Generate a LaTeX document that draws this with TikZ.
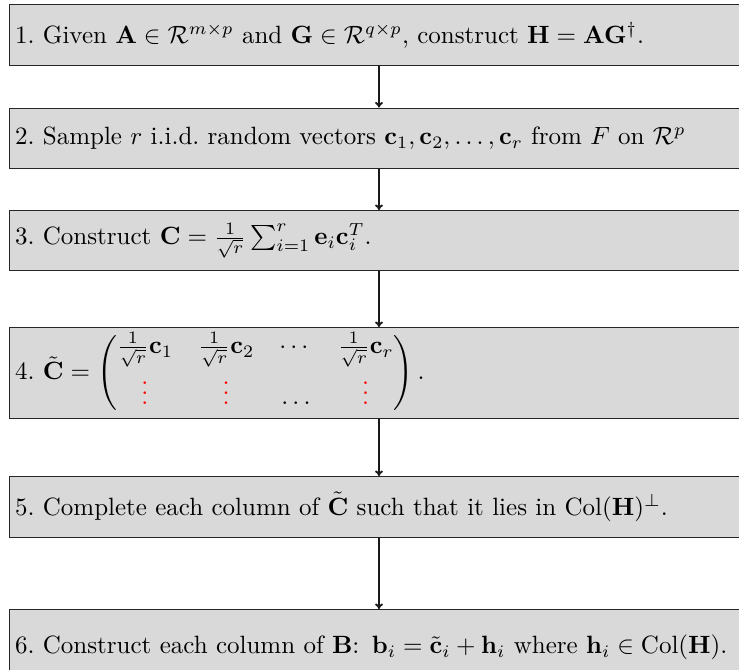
\documentclass[tikz,border=0pt]{standalone}
\usepackage{amsmath}
\usetikzlibrary{arrows.meta}
\newdimen\pxu
\pxu=0.40pt

\begin{document}
\begin{tikzpicture}[%
  x=\pxu, y=-\pxu,
  stepbox/.style={draw=black!85, line width=0.5pt, fill=black!15,
    anchor=north west, text width=790\pxu,
    inner xsep=2.4pt, align=left},
  flow/.style={-{To[length=2.2pt,width=3.2pt]}, line width=0.75pt, black!90}]
  \clip (0,0) rectangle (739,669);
  \useasboundingbox (0,0) rectangle (739,669);
  \coordinate (ax) at (379,0);
  \node[stepbox, minimum height=61.5\pxu] (s1) at (8.5,3.5)
    {1.~Given $\mathbf{A}\in\mathcal{R}^{m\times p}$ and $\mathbf{G}\in\mathcal{R}^{q\times p}$, construct $\mathbf{H}=\mathbf{A}\mathbf{G}^{\dagger}$.};
  \node[stepbox, minimum height=60\pxu] (s2) at (8.5,107.5)
    {2.~Sample $r$ i.i.d.\ random vectors $\mathbf{c}_1,\mathbf{c}_2,\ldots,\mathbf{c}_r$ from $F$ on $\mathcal{R}^p$};
  \node[stepbox, minimum height=60\pxu] (s3) at (8.5,210)
    {3.~Construct $\mathbf{C}=\frac{1}{\sqrt{r}}\sum_{i=1}^{r}\mathbf{e}_i\mathbf{c}_i^T$.};
  \node[stepbox, minimum height=91\pxu, inner ysep=1.2pt] (s4) at (8.5,327)
    {4.~$\tilde{\mathbf{C}}=\begin{pmatrix}
      \frac{1}{\sqrt{r}}\mathbf{c}_1 & \frac{1}{\sqrt{r}}\mathbf{c}_2 & \cdots & \frac{1}{\sqrt{r}}\mathbf{c}_r\\
      \color{red}\vdots & \color{red}\vdots & \ldots & \color{red}\vdots
    \end{pmatrix}$\,.};
  \node[stepbox, minimum height=60.5\pxu] (s5) at (8.5,476)
    {5.~Complete each column of $\tilde{\mathbf{C}}$ such that it lies in $\mathrm{Col}(\mathbf{H})^{\perp}$.};
  \node[stepbox, minimum height=75\pxu] (s6) at (8.5,609)
    {6.~Construct each column of $\mathbf{B}$: $\mathbf{b}_i=\tilde{\mathbf{c}}_i+\mathbf{h}_i$ where $\mathbf{h}_i\in\mathrm{Col}(\mathbf{H})$.};
  \draw[flow] (s1.south -| ax) -- (s2.north -| ax);
  \draw[flow] (s2.south -| ax) -- (s3.north -| ax);
  \draw[flow] (s3.south -| ax) -- (s4.north -| ax);
  \draw[flow] (s4.south -| ax) -- (s5.north -| ax);
  \draw[flow] (s5.south -| ax) -- (s6.north -| ax);
\end{tikzpicture}
\end{document}
